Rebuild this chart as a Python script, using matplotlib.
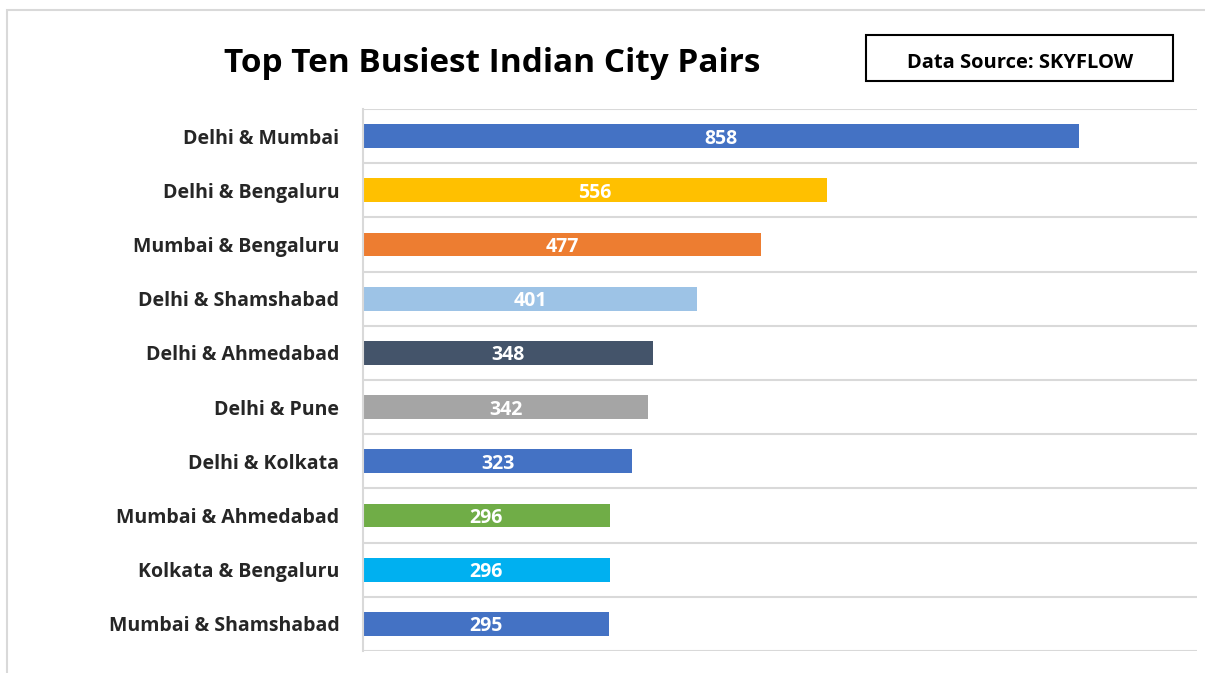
import numpy as np
import matplotlib
matplotlib.use("Agg")
import matplotlib.pyplot as plt
from matplotlib.patches import Rectangle

# data
city_pairs = ["Delhi & Mumbai", "Delhi & Bengaluru", "Mumbai & Bengaluru",
              "Delhi & Shamshabad", "Delhi & Ahmedabad", "Delhi & Pune",
              "Delhi & Kolkata", "Mumbai & Ahmedabad", "Kolkata & Bengaluru",
              "Mumbai & Shamshabad"]
flights = [858, 556, 477, 401, 348, 342, 323, 296, 296, 295]
bar_colors = ["#4472C4", "#FFC000", "#ED7D31", "#9DC3E6", "#44546A",
              "#A5A5A5", "#4472C4", "#70AD47", "#00B0F0", "#4472C4"]

title = "Top Ten Busiest Indian City Pairs"
source = "Data Source: SKYFLOW"

plt.rcParams['font.family'] = ['Open Sans', 'DejaVu Sans']

fig = plt.figure(figsize=(12.05, 6.73), dpi=100)
ax = fig.add_axes([363 / 1205, 1 - 651 / 673, (1197 - 363) / 1205, (651 - 109) / 673])

# outer chart border
fig.patches.append(Rectangle((7 / 1205, -0.1), 1.2, 1 - 10 / 673 + 0.1,
                             transform=fig.transFigure, fill=False,
                             edgecolor="#D9D9D9", linewidth=1.5))

y = np.arange(len(city_pairs))
bars = ax.barh(y, flights, height=0.44, color=bar_colors)

for b, v in zip(bars, flights):
    ax.text(b.get_width() / 2, b.get_y() + b.get_height() / 2, str(v),
            ha="center", va="center_baseline", color="white", fontsize=14,
            fontweight="bold")

ax.set_xlim(0, 1000)
ax.set_ylim(len(city_pairs) - 0.5, -0.5)
ax.set_yticks(y)
ax.set_yticklabels(city_pairs, fontsize=14, fontweight="bold", color="#262626")
ax.set_yticks(np.arange(-0.5, len(city_pairs), 1), minor=True)
ax.tick_params(axis="y", which="both", length=0, pad=17)
ax.set_xticks([])
ax.grid(axis="y", which="minor", color="#D9D9D9", linewidth=1.5)
ax.set_axisbelow(True)

for s in ["top", "right", "bottom"]:
    ax.spines[s].set_visible(False)
ax.spines["left"].set_color("#D9D9D9")
ax.spines["left"].set_linewidth(1.5)

fig.text(492 / 1205, 1 - 60 / 673, title, ha="center", va="center_baseline",
         fontsize=24, fontweight="bold", color="black")

fig.text(1020 / 1205, 1 - 60 / 673, source, ha="center", va="center_baseline",
         fontsize=14.5, fontweight="bold", color="black")
fig.patches.append(Rectangle((866 / 1205, 1 - 81 / 673), (1173 - 866) / 1205, 46 / 673,
                             transform=fig.transFigure, fill=False,
                             edgecolor="black", linewidth=1.5))

fig.savefig("out.png", dpi=100)
